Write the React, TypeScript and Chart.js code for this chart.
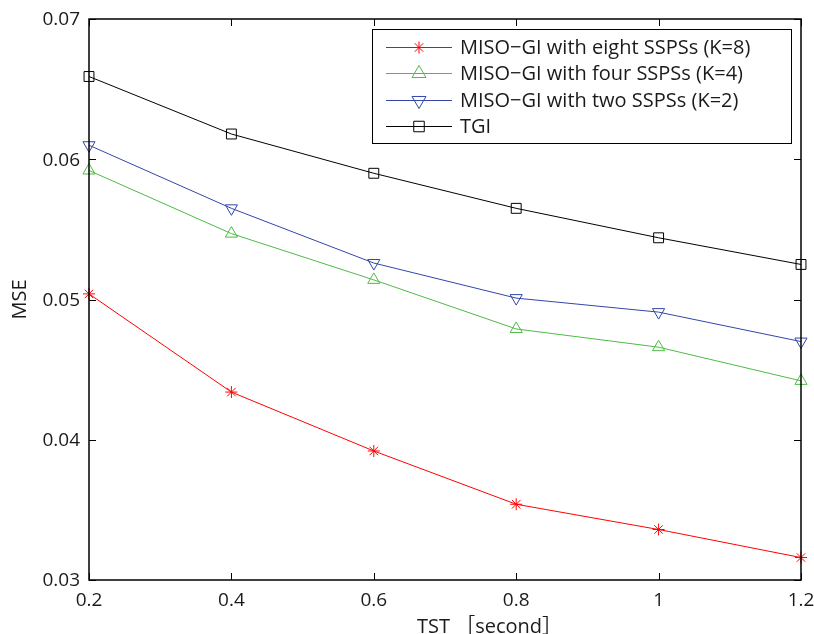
import React, { useEffect, useRef } from "react";
import { Chart, registerables } from "chart.js";

Chart.register(...registerables);

const xValues = [0.2, 0.4, 0.6, 0.8, 1.0, 1.2];
const eightSSPS = [0.0504, 0.0434, 0.0392, 0.0354, 0.0336, 0.0316];
const fourSSPS = [0.0592, 0.0547, 0.0514, 0.0479, 0.0466, 0.0442];
const twoSSPS = [0.0610, 0.0565, 0.0526, 0.0501, 0.0491, 0.0470];
const tgi = [0.0659, 0.0618, 0.0590, 0.0565, 0.0544, 0.0525];
const seriesLabels = [
  "MISO\u2212GI with eight SSPSs (K=8)",
  "MISO\u2212GI with four SSPSs (K=4)",
  "MISO\u2212GI with two SSPSs (K=2)",
  "TGI",
];
const xTicks = [0.2, 0.4, 0.6, 0.8, 1.0, 1.2];
const yTicks = [0.03, 0.04, 0.05, 0.06, 0.07];
const xTitle = "TST \uFF3Bsecond\uFF3D";
const yTitle = "MSE";

const FONT = "'Open Sans', 'Noto Sans CJK SC', sans-serif";
const TEXT = "#1a1a1a";

function drawMarker(ctx: CanvasRenderingContext2D, style: string, rotation: number, r: number, x: number, y: number) {
  const rad = (rotation * Math.PI) / 180;
  ctx.beginPath();
  if (style === "triangle") {
    for (let k = 0; k < 3; k++) {
      const ang = rad - Math.PI / 2 + (k * 2 * Math.PI) / 3;
      const px = x + Math.cos(ang) * r * 1.15;
      const py = y + Math.sin(ang) * r * 1.15;
      if (k === 0) ctx.moveTo(px, py);
      else ctx.lineTo(px, py);
    }
    ctx.closePath();
  } else if (style === "rect") {
    const s = r * 0.75;
    ctx.rect(x - s, y - s, 2 * s, 2 * s);
  } else if (style === "star") {
    for (let k = 0; k < 4; k++) {
      const ang = (k * Math.PI) / 4;
      ctx.moveTo(x + Math.cos(ang) * r, y + Math.sin(ang) * r);
      ctx.lineTo(x - Math.cos(ang) * r, y - Math.sin(ang) * r);
    }
  }
  ctx.stroke();
}

const boxPlugin = {
  id: "boxPlugin",
  afterDraw(chart: any) {
    const { ctx, chartArea: a, scales } = chart;
    const tl = 7;
    ctx.save();
    ctx.strokeStyle = "#000";
    ctx.lineWidth = 1;
    ctx.beginPath();
    for (const v of xTicks) {
      const px = Math.round(scales.x.getPixelForValue(v)) + 0.5;
      ctx.moveTo(px, a.bottom);
      ctx.lineTo(px, a.bottom - tl);
      ctx.moveTo(px, a.top);
      ctx.lineTo(px, a.top + tl);
    }
    for (const v of yTicks) {
      const py = Math.round(scales.y.getPixelForValue(v)) + 0.5;
      ctx.moveTo(a.left, py);
      ctx.lineTo(a.left + tl, py);
      ctx.moveTo(a.right, py);
      ctx.lineTo(a.right - tl, py);
    }
    ctx.stroke();
    ctx.lineWidth = 1.5;
    ctx.strokeRect(a.left, a.top, a.right - a.left, a.bottom - a.top);

    // tick labels
    ctx.fillStyle = TEXT;
    ctx.font = `19px ${FONT}`;
    ctx.textAlign = "center";
    ctx.textBaseline = "middle";
    for (const v of xTicks) {
      const px = scales.x.getPixelForValue(v);
      ctx.fillText(String(Number(v.toFixed(1))), px, a.bottom + 21);
    }
    ctx.textAlign = "right";
    for (const v of yTicks) {
      const py = scales.y.getPixelForValue(v);
      ctx.fillText(v.toFixed(2), a.left - 9, py + 1);
    }
    // axis titles
    ctx.font = `20px ${FONT}`;
    ctx.textAlign = "left";
    ctx.textBaseline = "middle";
    ctx.fillText(xTitle, 417, 627);
    ctx.save();
    ctx.translate(20, (a.top + a.bottom) / 2);
    ctx.rotate(-Math.PI / 2);
    ctx.textAlign = "center";
    ctx.fillText(yTitle, 0, 0);
    ctx.restore();

    // legend
    const lx = 372, ly = 29, lw = 419, lh = 114;
    ctx.fillStyle = "#fff";
    ctx.fillRect(lx, ly, lw, lh);
    ctx.lineWidth = 1;
    ctx.strokeStyle = "#000";
    ctx.strokeRect(lx + 0.5, ly + 0.5, lw, lh);
    const rows = [47, 73, 100, 126];
    chart.data.datasets.forEach((ds: any, i: number) => {
      const y = rows[i];
      ctx.strokeStyle = ds.borderColor;
      ctx.lineWidth = 1;
      ctx.beginPath();
      ctx.moveTo(386, y + 0.5);
      ctx.lineTo(452, y + 0.5);
      ctx.stroke();
      drawMarker(ctx, ds.pointStyle, ds.pointRotation, ds.pointRadius, 419, y + 0.5);
      ctx.fillStyle = TEXT;
      ctx.font = `20px ${FONT}`;
      ctx.textBaseline = "middle";
      ctx.textAlign = "left";
      ctx.fillText(seriesLabels[i], 460, y + 1);
    });
    ctx.restore();
  },
};

export default function App() {
  const ref = useRef<HTMLCanvasElement>(null);
  useEffect(() => {
    if (!ref.current) return;
    const mk = (data: number[], color: string, style: string, rotation: number, radius: number) => ({
      data: xValues.map((x, i) => ({ x, y: data[i] })),
      borderColor: color,
      backgroundColor: "rgba(0,0,0,0)",
      pointBorderColor: color,
      pointBackgroundColor: "rgba(0,0,0,0)",
      pointStyle: style,
      pointRotation: rotation,
      pointRadius: radius,
      pointBorderWidth: 1,
      borderWidth: 1,
      tension: 0,
      clip: false,
    });
    const chart = new Chart(ref.current, {
      type: "line",
      data: {
        datasets: [
          mk(eightSSPS, "#ff0000", "star", 0, 6),
          mk(fourSSPS, "#4fba46", "triangle", 0, 7),
          mk(twoSSPS, "#3346a8", "triangle", 180, 7),
          mk(tgi, "#000000", "rect", 0, 7),
        ] as any,
      },
      options: {
        animation: false,
        responsive: false,
        maintainAspectRatio: false,
        layout: { padding: { top: 19, right: 13, left: 0, bottom: 0 } },
        plugins: { legend: { display: false }, tooltip: { enabled: false } },
        scales: {
          x: {
            type: "linear",
            min: 0.2,
            max: 1.2,
            afterFit: (s: any) => {
              s.height = 54;
            },
            grid: { display: false },
            border: { display: false },
            ticks: { display: false },
          },
          y: {
            type: "linear",
            min: 0.03,
            max: 0.07,
            afterFit: (s: any) => {
              s.width = 89;
            },
            grid: { display: false },
            border: { display: false },
            ticks: { display: false },
          },
        },
      },
      plugins: [boxPlugin],
    });
    return () => chart.destroy();
  }, []);
  return (
    <div style={{ position: "fixed", left: 0, top: 0, width: 814, height: 634, background: "#fff" }}>
      <canvas ref={ref} width={814} height={634} style={{ width: 814, height: 634 }} />
    </div>
  );
}
